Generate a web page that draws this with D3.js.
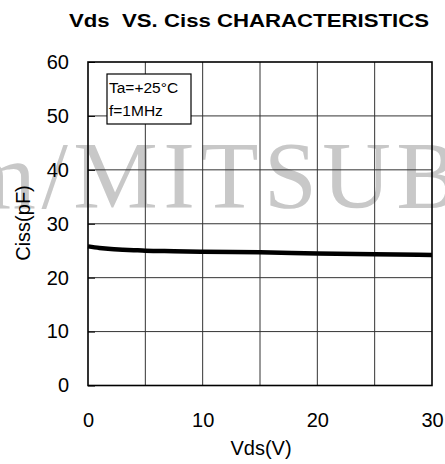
<!DOCTYPE html>
<html><head><meta charset="utf-8">
<script src="https://cdn.jsdelivr.net/npm/d3@7"></script>
<style>html,body{margin:0;padding:0;background:#fff;overflow:hidden}</style>
</head><body>
<svg id="c" width="445" height="464"></svg>
<script>
const vds = [0, 1, 2, 3, 4, 5, 7.5, 10, 15, 20, 25, 30];
const ciss = [25.8, 25.5, 25.3, 25.2, 25.1, 25.0, 24.9, 24.8, 24.7, 24.5, 24.35, 24.2];
const xTickLabels = [0, 10, 20, 30];
const yTickLabels = [0, 10, 20, 30, 40, 50, 60];
const xGrid = [5, 10, 15, 20, 25];
const legendLines = ["Ta=+25°C", "f=1MHz"];

const svg = d3.select("#c");
const L = 88, R = 432, T = 62, B = 385.5;
const x = d3.scaleLinear().domain([0, 30]).range([L, R]);
const y = d3.scaleLinear().domain([0, 60]).range([B, T]);
const sans = "Liberation Sans, Arial, sans-serif";

// watermark
svg.append("text").attr("x", -38).attr("y", 208)
  .attr("font-family", "Liberation Serif, serif").attr("font-size", 95)
  .attr("letter-spacing", 5.5)
  .attr("fill", "#c8c8c8").text("m/MITSUBISHI");

// title
svg.append("text").attr("x", 69).attr("y", 27)
  .attr("font-family", sans).attr("font-weight", "bold")
  .attr("font-size", 17.5).attr("fill", "#000")
  .attr("textLength", 360).attr("lengthAdjust", "spacingAndGlyphs")
  .style("white-space", "pre")
  .text("Vds\u00a0\u00a0VS. Ciss CHARACTERISTICS");

// grid
const g = svg.append("g");
g.selectAll(".hg").data(yTickLabels.slice(1, -1)).enter().append("line")
  .attr("x1", L).attr("x2", R).attr("y1", d => y(d)).attr("y2", d => y(d))
  .attr("stroke", "#333").attr("stroke-width", 1);
g.selectAll(".vg").data(xGrid).enter().append("line")
  .attr("y1", T).attr("y2", B).attr("x1", d => x(d)).attr("x2", d => x(d))
  .attr("stroke", "#333").attr("stroke-width", 1);

// axes (labels, ticks inward)
const ya = d3.axisLeft(y).tickValues(yTickLabels).tickSize(-7).tickPadding(19).tickFormat(d3.format("d"));
const yg = svg.append("g").attr("transform", `translate(${L},0)`).call(ya);
yg.select(".domain").remove();
yg.selectAll("text").attr("font-family", sans).attr("font-size", 20).attr("fill", "#000");
yg.selectAll("line").attr("stroke", "#000");

const xa = d3.axisBottom(x).tickValues(xTickLabels).tickSize(0).tickPadding(27).tickFormat(d3.format("d"));
const xg = svg.append("g").attr("transform", `translate(0,${B})`).call(xa);
xg.select(".domain").remove();
xg.selectAll("text").attr("font-family", sans).attr("font-size", 20).attr("fill", "#000");

// frame
svg.append("rect").attr("x", L).attr("y", T).attr("width", R - L).attr("height", B - T)
  .attr("fill", "none").attr("stroke", "#000").attr("stroke-width", 1.6);

// legend box
svg.append("rect").attr("x", 107).attr("y", 74).attr("width", 84).attr("height", 50)
  .attr("fill", "#fff").attr("stroke", "#000").attr("stroke-width", 1.2);
svg.selectAll(".lg").data(legendLines).enter().append("text")
  .attr("x", 109).attr("y", (d, i) => 93 + i * 23)
  .attr("font-family", sans).attr("font-size", 15.5)
  .attr("fill", "#000").text(d => d);

// curve
const line = d3.line().x((d, i) => x(vds[i])).y(d => y(d)).curve(d3.curveMonotoneX);
svg.append("path").datum(ciss).attr("d", line).attr("fill", "none")
  .attr("stroke", "#000").attr("stroke-width", 4.5);

// axis titles
svg.append("text").attr("x", 261).attr("y", 455).attr("text-anchor", "middle")
  .attr("font-family", sans).attr("font-size", 20)
  .attr("fill", "#000").text("Vds(V)");
svg.append("text").attr("transform", "translate(30,223) rotate(-90)").attr("text-anchor", "middle")
  .attr("font-family", sans).attr("font-size", 20)
  .attr("fill", "#000").text("Ciss(pF)");
</script>
</body></html>
